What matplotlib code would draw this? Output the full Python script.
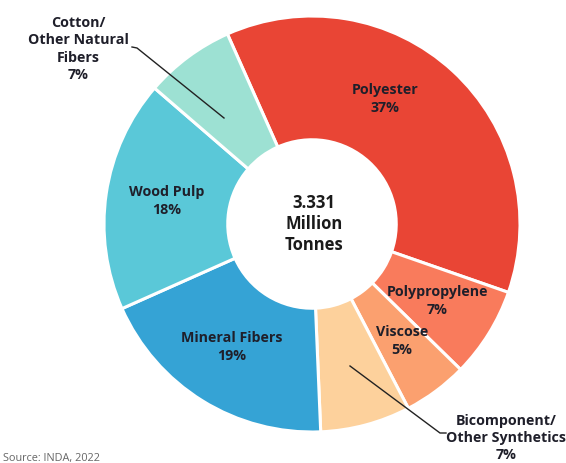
import matplotlib.pyplot as plt

W, H = 566, 463

categories = ["Polyester", "Polypropylene", "Viscose", "Bicomponent/\nOther Synthetics",
              "Mineral Fibers", "Wood Pulp", "Cotton/\nOther Natural\nFibers"]
shares = [37, 7, 5, 7, 19, 18, 7]
colors = ["#E94535", "#F97B5C", "#FBA06F", "#FDD19C", "#35A3D5", "#5AC8D8", "#9DE1D3"]
total_text = "3.331\nMillion\nTonnes"
source = "Source: INDA, 2022"

plt.rcParams['font.family'] = ['Open Sans', 'DejaVu Sans']

fig = plt.figure(figsize=(W / 100, H / 100), dpi=100)
ax = fig.add_axes([0, 0, 1, 1])

def py(y):
    return H - y

R = 208
cx, cy = 312, py(224)
ax.pie(shares, colors=colors, startangle=114, counterclock=False,
       center=(cx, cy), radius=R,
       wedgeprops=dict(width=R * 0.595, edgecolor="white", linewidth=2.2))
ax.set_xlim(0, W)
ax.set_ylim(0, H)
ax.set_aspect("equal")
ax.axis("off")

# label positions in pixels (x, y from top)
label_pos = [(385, 99), (437, 301), (402, 341), (506, 438), (232, 347), (167, 201), (78, 49)]
for name, val, (x, y) in zip(categories, shares, label_pos):
    ax.text(x, py(y), f"{name}\n{val}%", ha="center", va="center", fontsize=10.3,
            fontweight="bold", color="#1f1f2a", linespacing=1.3)

ax.text(cx + 2, py(224), total_text, ha="center", va="center", fontsize=12,
        fontweight="bold", color="#1a1a1a", linespacing=1.25)

# leader lines
ax.plot([132, 137, 224], [py(47), py(48), py(118)], color="#222222", lw=1)
ax.plot([350, 440, 446], [py(366), py(433), py(433)], color="#222222", lw=1)

ax.text(3, py(458), source, ha="left", va="center", fontsize=7.8, color="#666666")

fig.savefig("out.png", dpi=100)
